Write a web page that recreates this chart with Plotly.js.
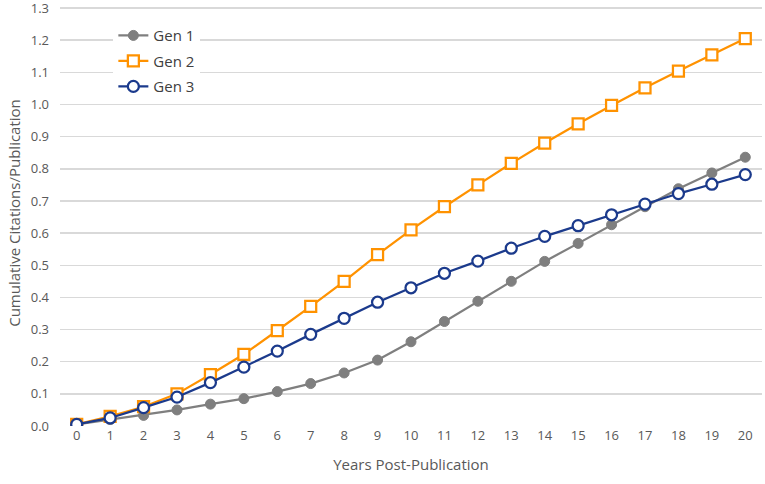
<!DOCTYPE html>
<html><head><meta charset="utf-8">
<script src="https://cdn.plot.ly/plotly-3.0.1.min.js"></script>
<style>html,body{margin:0;padding:0;background:#fff;}#chart{width:765px;height:484px;}</style>
</head><body><div id="chart"></div>
<script>
var years = [0,1,2,3,4,5,6,7,8,9,10,11,12,13,14,15,16,17,18,19,20];
var gen1 = [0.005,0.020,0.033,0.050,0.068,0.085,0.107,0.132,0.165,0.205,0.262,0.325,0.388,0.450,0.512,0.568,0.626,0.682,0.738,0.787,0.836];
var gen2 = [0.005,0.030,0.060,0.100,0.160,0.223,0.297,0.372,0.450,0.533,0.610,0.682,0.750,0.817,0.880,0.940,0.997,1.052,1.104,1.154,1.205];
var gen3 = [0.005,0.025,0.057,0.090,0.135,0.183,0.233,0.285,0.335,0.385,0.430,0.475,0.513,0.553,0.590,0.623,0.657,0.690,0.723,0.752,0.782];
var yTicks = [0,0.1,0.2,0.3,0.4,0.5,0.6,0.7,0.8,0.9,1.0,1.1,1.2,1.3];
var yTickText = ["0.0","0.1","0.2","0.3","0.4","0.5","0.6","0.7","0.8","0.9","1.0","1.1","1.2","1.3"];

var font = "'Open Sans', 'Noto Sans', sans-serif";
var traces = [
  {x: years, y: gen1, name: "Gen 1", legendgroup: "g1", mode: "lines+markers",
   line: {color: "#7f7f7f", width: 2.25},
   marker: {symbol: "circle", size: 10, color: "#7f7f7f", line: {color: "#7f7f7f", width: 1}}},
  {x: years, y: gen2, name: "Gen 2", legendgroup: "g2", mode: "lines+markers",
   line: {color: "#ff9200", width: 2.25},
   marker: {symbol: "square", size: 11, color: "#ffffff", line: {color: "#ff9200", width: 2.25}}},
  {x: years, y: gen3, name: "Gen 3", legendgroup: "g3", mode: "lines+markers",
   line: {color: "#1b3a8c", width: 2.25},
   marker: {symbol: "circle", size: 11, color: "#ffffff", line: {color: "#1b3a8c", width: 2.25}}}
];
var layout = {
  width: 765, height: 484,
  margin: {l: 60, r: 3, t: 0, b: 58},
  paper_bgcolor: "#ffffff", plot_bgcolor: "#ffffff",
  font: {family: font, color: "#595959", size: 12},
  showlegend: true,
  legend: {x: 0.076, y: 0.955, xanchor: "left", yanchor: "top", bgcolor: "#ffffff",
           font: {size: 15, color: "#404040"}, traceorder: "grouped", tracegroupgap: 3, itemwidth: 30},
  xaxis: {range: [-0.5, 20.5], tickmode: "array", tickvals: years, ticktext: years.map(String),
          showgrid: false, zeroline: false, showline: false, ticks: "", fixedrange: true,
          tickfont: {size: 13, color: "#595959"},
          title: {text: "Years Post-Publication", font: {size: 15, color: "#595959"}, standoff: 16}},
  yaxis: {range: [0, 1.325], tickmode: "array", tickvals: yTicks, ticktext: yTickText,
          showgrid: true, gridcolor: "#d9d9d9", gridwidth: 1.5, zeroline: false, showline: false,
          ticks: "", ticklen: 0, ticklabelstandoff: 10, ticklabeloverflow: "allow", fixedrange: true,
          tickfont: {size: 13, color: "#595959"},
          title: {text: "Cumulative Citations/Publication", font: {size: 15, color: "#595959"}, standoff: 6}}
};
Plotly.newPlot("chart", traces, layout, {displayModeBar: false, staticPlot: true});
</script></body></html>
